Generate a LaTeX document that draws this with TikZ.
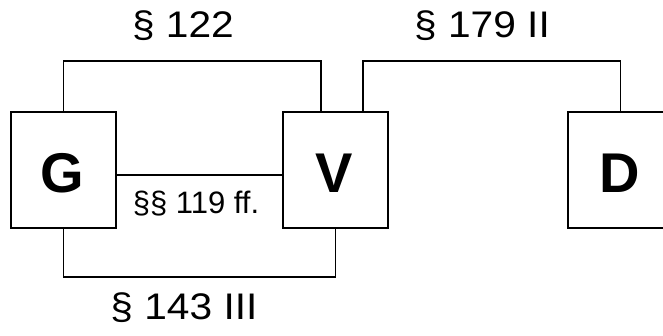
\documentclass[tikz,border=0pt]{standalone}
\usepackage{fontspec}
\setmainfont{Liberation Sans}
\newfontfamily\biglab[FakeStretch=1.1]{Liberation Sans}
\begin{document}
\begin{tikzpicture}[x=1pt,y=-1pt,
  party/.style={draw,line width=1.8pt,minimum width=105pt,minimum height=116pt,inner sep=0pt,anchor=north west},
  conn/.style={line width=1.8pt},
  letter/.style={font=\fontsize{56}{60}\selectfont\bfseries,inner sep=0pt,anchor=base},
  biglabel/.style={font=\biglab\fontsize{37}{40}\selectfont,inner sep=0pt,anchor=base},
  smalllabel/.style={font=\fontsize{31}{34}\selectfont,inner sep=0pt,anchor=base}]
\useasboundingbox (0,0) rectangle (663,335);
\fill[white] (0,0) rectangle (663,335);
\node[party] (G) at (10,111) {};
\node[party] (V) at (282,111) {};
\node[party] (D) at (567,111) {};
\node[letter] (tG) at (62.5,192) {G};
\node[letter] (tV) at (334.5,192) {V};
\node[letter] (tD) at (619.5,192) {D};
\coordinate (vl) at ([xshift=39pt]V.north west);
\coordinate (vr) at ([xshift=-26pt]V.north east);
\coordinate (c122) at (0,61);
\coordinate (c179) at (0,61);
\coordinate (c143) at (0,277);
\draw[conn] (G.north) |- (c122 -| vl) -- (vl);
\draw[conn] (vr) |- (c179 -| D.north) -- (D.north);
\draw[conn] (G.south) |- (c143 -| V.south) -- (V.south);
\draw[conn] ([yshift=-5pt]G.east) -- ([yshift=-5pt]V.west);
\node[biglabel] (l122) at (183,37) {§ 122};
\node[biglabel] (l179) at (482,37) {§ 179 II};
\node[biglabel] (l143) at (184,319) {§ 143 III};
\node[smalllabel] (l119) at (196,213) {§§ 119 ff.};
\end{tikzpicture}
\end{document}
